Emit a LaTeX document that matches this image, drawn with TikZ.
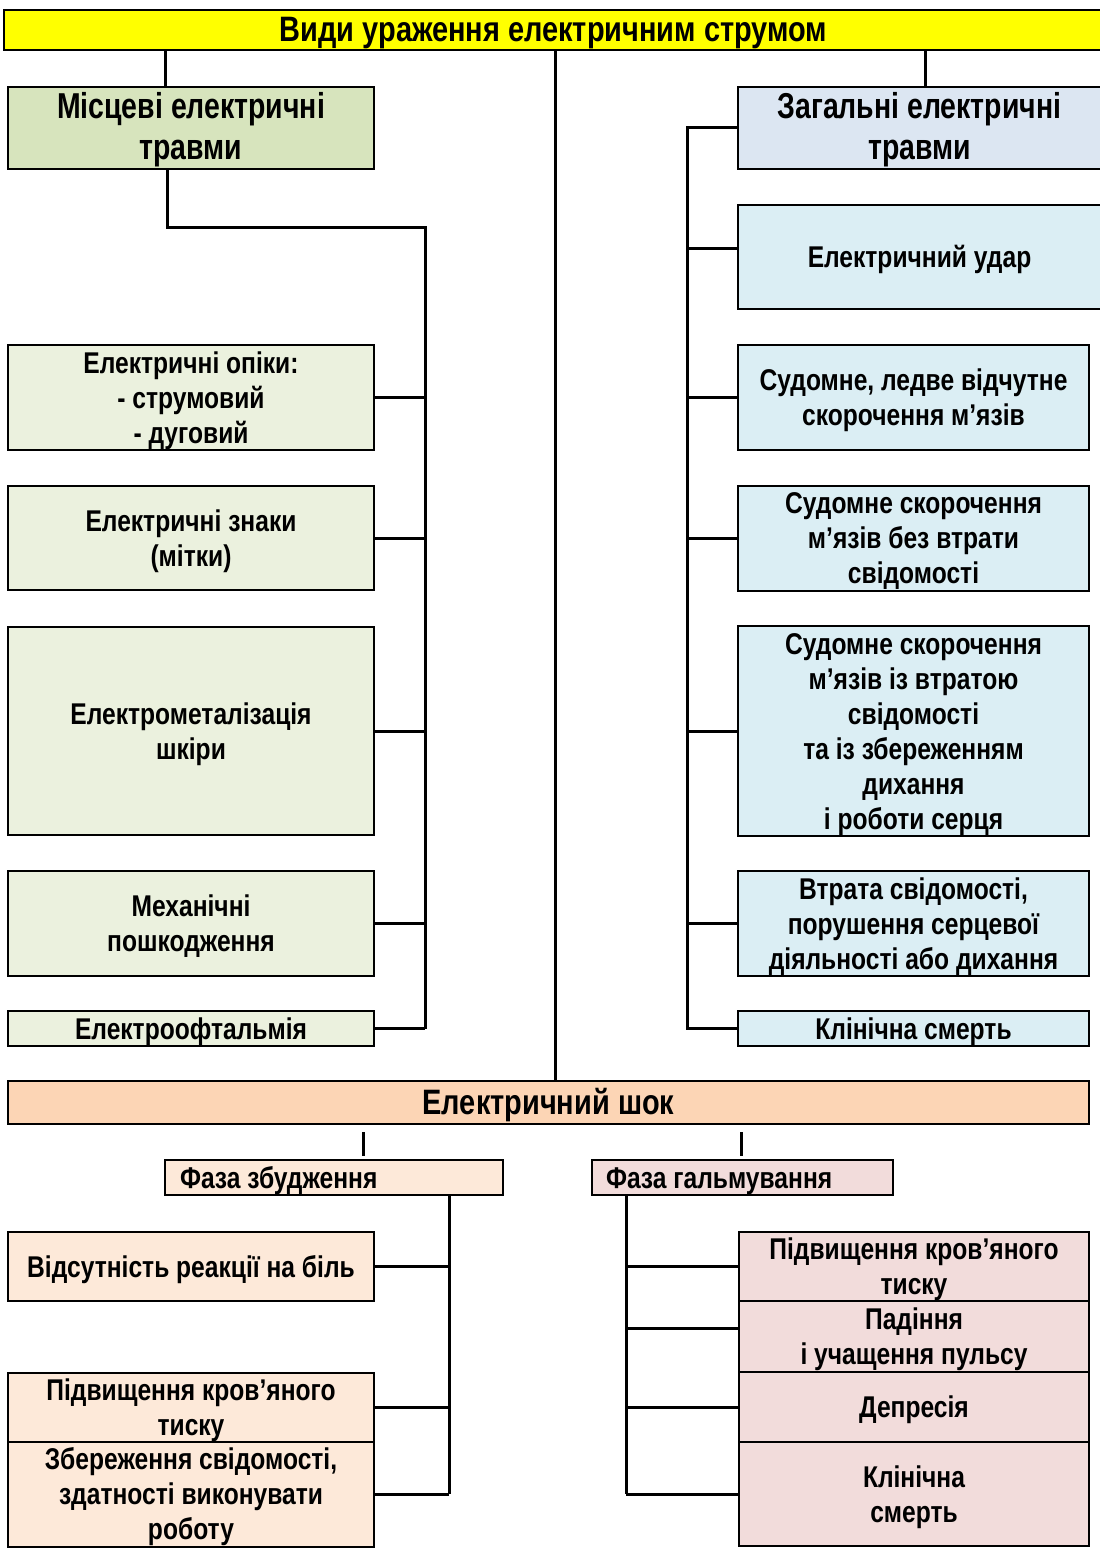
\documentclass[tikz,border=0pt]{standalone}
\usepackage{fontspec}
\usetikzlibrary{calc}
\newfontfamily\nb{Liberation Sans}[FakeStretch=0.82]
\newfontfamily\nbb{Liberation Sans}[FakeStretch=0.79]
\definecolor{cyel}{HTML}{FFFF00}
\definecolor{cmist}{HTML}{D7E4BD}
\definecolor{cgreen}{HTML}{EBF1DE}
\definecolor{czag}{HTML}{DCE6F2}
\definecolor{cblue}{HTML}{DBEEF4}
\definecolor{cshok}{HTML}{FCD5B5}
\definecolor{cpeach}{HTML}{FDE9D9}
\definecolor{cpink}{HTML}{F2DCDB}
\newcommand\tx[1]{\raisebox{-3.5pt}[\height][\depth]{\begin{tabular}{@{}c@{}}#1\end{tabular}}}
\newcommand\tl[2]{\raisebox{-3.5pt}[\height][\depth]{\makebox[#1][l]{#2}}}
\tikzset{
  bx/.style={draw=black, line width=2pt, inner sep=0pt,
    font=\nb\bfseries\fontsize{30}{35}\selectfont},
  big/.style={font=\nbb\bfseries\fontsize{36}{41}\selectfont},
  hdr/.style={font=\nb\bfseries\fontsize{35.3}{40}\selectfont},
  conn/.style={draw=black, line width=3pt}
}
\begin{document}
\begin{tikzpicture}[x=1pt,y=-1pt]
\useasboundingbox (0,0) rectangle (1100,1548);
\fill[white] (0,0) rectangle (1100,1548);
% top
\node[bx, hdr, fill=cyel, minimum width=1099pt, minimum height=40pt] (title) at (553.5,30) {\tx{Види ураження електричним струмом}};
\node[bx, big, fill=cmist, minimum width=366pt, minimum height=81pt] (mist) at (191,127.5) {\tx{Місцеві електричні\\травми}};
\node[bx, big, fill=czag, minimum width=363pt, minimum height=81pt] (zag) at (919.5,127.5) {\tx{Загальні електричні\\травми}};
% left column
\node[bx, fill=cgreen, minimum width=366pt, minimum height=105pt] (L1) at (191,397.5) {\tx{Електричні опіки:\\- струмовий\\- дуговий}};
\node[bx, fill=cgreen, minimum width=366pt, minimum height=104pt] (L2) at (191,538) {\tx{Електричні знаки\\(мітки)}};
\node[bx, fill=cgreen, minimum width=366pt, minimum height=208pt] (L3) at (191,731) {\tx{Електрометалізація\\шкіри}};
\node[bx, fill=cgreen, minimum width=366pt, minimum height=105pt] (L4) at (191,923.5) {\tx{Механічні\\пошкодження}};
\node[bx, fill=cgreen, minimum width=366pt, minimum height=35pt] (L5) at (191,1028.5) {\tx{Електроофтальмія}};
% right column
\node[bx, fill=cblue, minimum width=363pt, minimum height=104pt] (R1) at (919.5,257) {\tx{Електричний удар}};
\node[bx, fill=cblue, minimum width=351pt, minimum height=105pt] (R2) at (913.5,397.5) {\tx{Судомне, ледве відчутне\\скорочення м’язів}};
\node[bx, fill=cblue, minimum width=351pt, minimum height=104pt] (R3) at (913.5,538) {\tx{Судомне скорочення\\м’язів без втрати\\свідомості}};
\node[bx, fill=cblue, minimum width=351pt, minimum height=208pt] (R4) at (913.5,731) {\tx{Судомне скорочення\\м’язів із втратою\\свідомості\\та із збереженням\\дихання\\і роботи серця}};
\node[bx, fill=cblue, minimum width=351pt, minimum height=105pt] (R5) at (913.5,923.5) {\tx{Втрата свідомості,\\порушення серцевої\\діяльності або дихання}};
\node[bx, fill=cblue, minimum width=351pt, minimum height=35pt] (R6) at (913.5,1028.5) {\tx{Клінічна смерть}};
% shock
\node[bx, hdr, fill=cshok, minimum width=1081pt, minimum height=43pt] (shok) at (548.5,1102.5) {\tx{Електричний шок}};
\node[bx, fill=cpeach, minimum width=338pt, minimum height=35pt] (f1) at (334,1177.5) {\tl{308pt}{Фаза збудження}};
\node[bx, fill=cpink, minimum width=301pt, minimum height=35pt] (f2) at (742.5,1177.5) {\tl{273pt}{Фаза гальмування}};
\node[bx, fill=cpeach, minimum width=366pt, minimum height=69pt] (LS1) at (191,1266.5) {\tx{Відсутність реакції на біль}};
\node[bx, fill=cpeach, minimum width=366pt, minimum height=69pt] (LS2) at (191,1407.5) {\tx{Підвищення кров’яного\\тиску}};
\node[bx, fill=cpeach, minimum width=366pt, minimum height=104pt] (LS3) at (191,1494) {\tx{Збереження свідомості,\\здатності виконувати\\роботу}};
\node[bx, fill=cpink, minimum width=350pt, minimum height=69pt] (RS1) at (914,1266.5) {\tx{Підвищення кров’яного\\тиску}};
\node[bx, fill=cpink, minimum width=350pt, minimum height=71pt] (RS2) at (914,1336.5) {\tx{Падіння\\і учащення пульсу}};
\node[bx, fill=cpink, minimum width=350pt, minimum height=70pt] (RS3) at (914,1407) {\tx{Депресія}};
\node[bx, fill=cpink, minimum width=350pt, minimum height=104pt] (RS4) at (914,1494) {\tx{Клінічна\\смерть}};
% bus coordinates
\coordinate (xa) at (165,0);
\coordinate (xm) at (555,0);
\coordinate (xz) at (925,0);
\coordinate (xm2) at (167,0);
\coordinate (kL) at (425,227);
\coordinate (bR) at (687,0);
\coordinate (xf1) at (363,0);
\coordinate (xf2) at (741,0);
\coordinate (bLS) at (449,0);
\coordinate (bRS) at (626,0);
% connectors top
\draw[conn] (title.south -| xa) -- (mist.north -| xa);
\draw[conn] (title.south -| xm) -- (shok.north -| xm);
\draw[conn] (title.south -| xz) -- (zag.north -| xz);
% left bus
\draw[conn] (mist.south -| xm2) |- (kL) -- (L5.east -| kL);
\foreach \n in {L1,L2,L3,L4,L5} \draw[conn] (\n.east) -- (\n.east -| kL);
% right bus
\draw[conn] (zag.west) -| (R6.west -| bR) -- (R6.west);
\coordinate (r1b) at ($(R1.west)+(0,-9)$);
\draw[conn] (r1b) -- (r1b -| bR);
\foreach \n in {R2,R3,R4,R5} \draw[conn] (\n.west) -- (\n.west -| bR);
% shock to phases
\draw[conn] ($(shok.south -| xf1)+(0,7)$) -- ($(f1.north -| xf1)+(0,-3)$);
\draw[conn] ($(shok.south -| xf2)+(0,7)$) -- ($(f2.north -| xf2)+(0,-3)$);
% phase buses
\draw[conn] (f1.south -| bLS) -- (LS3.east -| bLS);
\foreach \n in {LS1,LS2,LS3} \draw[conn] (\n.east) -- (\n.east -| bLS);
\draw[conn] (f2.south -| bRS) -- (RS4.west -| bRS);
\coordinate (rs2b) at ($(RS2.west)+(0,-8)$);
\draw[conn] (rs2b) -- (rs2b -| bRS);
\foreach \n in {RS1,RS3,RS4} \draw[conn] (\n.west) -- (\n.west -| bRS);
\end{tikzpicture}
\end{document}
